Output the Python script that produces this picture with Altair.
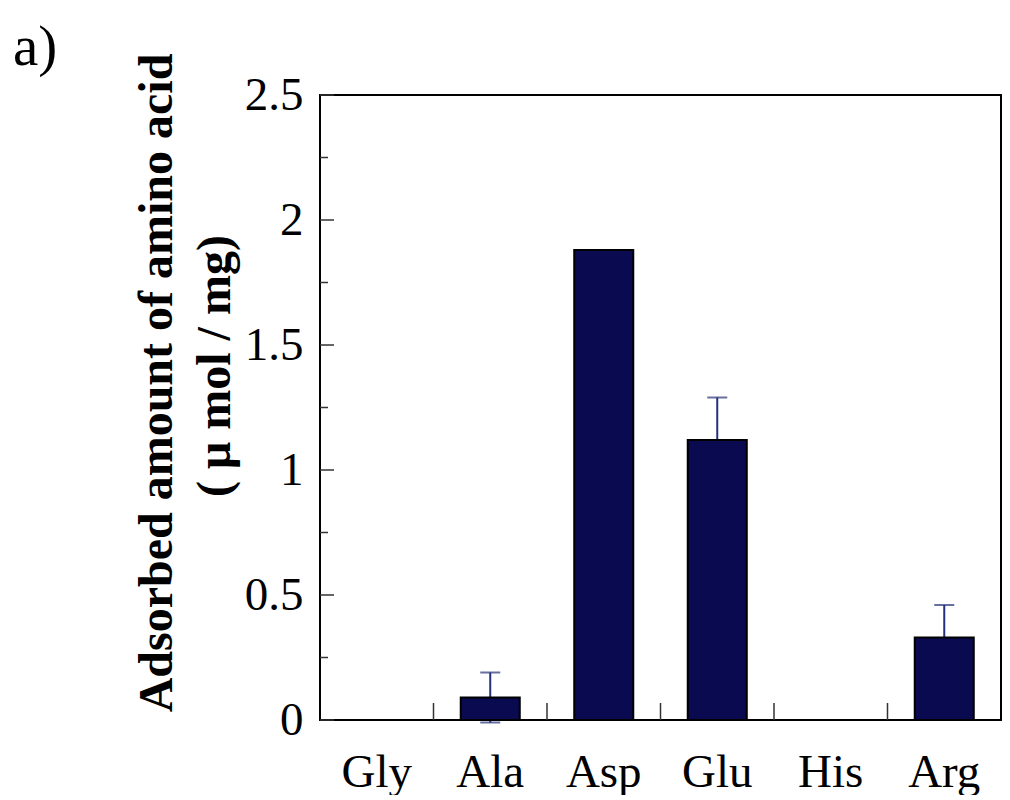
import altair as alt
import pandas as pd

categories = ["Gly", "Ala", "Asp", "Glu", "His", "Arg"]
values = [0.0, 0.09, 1.88, 1.12, 0.0, 0.33]
errors = [0.0, 0.10, 0.0, 0.17, 0.0, 0.13]
major_ticks = [0, 0.5, 1, 1.5, 2, 2.5]
minor_ticks = [0.25, 0.75, 1.25, 1.75, 2.25]
boundary_categories = ["Ala", "Asp", "Glu", "His", "Arg"]
y_title_line1 = ["Adsorbed amount of amino acid"]
y_title_line2 = ["( μ mol / mg)"]
panel_label = ["a)"]

df = pd.DataFrame({"cat": categories, "value": values, "err": errors})
df["lo"] = df["value"] - df["err"]
df["hi"] = df["value"] + df["err"]
df_err = df[df["err"] > 0]

W, H = 681, 625
FONT = "Liberation Serif"
BAR = "#0a0a50"
ERR = "#263078"

xscale = alt.Scale(domain=categories, paddingInner=0, paddingOuter=0)
yscale = alt.Scale(domain=[0, 2.5], nice=False, zero=False)

x_axis = alt.Axis(title=None, labelFont=FONT, labelFontSize=47, labelColor="black",
                  labelAngle=0, ticks=False, domain=False, labelPadding=29, grid=False)
y_axis = alt.Axis(title=None, values=major_ticks, format="~g", labelFont=FONT,
                  labelFontSize=47, labelColor="black", ticks=False, domain=False,
                  grid=False, labelPadding=17)


def X(field, **kw):
    return alt.X(field, scale=xscale, sort=categories, axis=x_axis, **kw)


def Y(field):
    return alt.Y(field, scale=yscale, axis=y_axis)


bars = alt.Chart(df).mark_bar(width=alt.RelativeBandSize(0.52), color=BAR, stroke="black",
                               strokeWidth=2).encode(x=X("cat:N"), y=Y("value:Q"))

# major / minor y ticks pointing inward
ymaj = alt.Chart(pd.DataFrame({"value": major_ticks})).mark_rule(color="#333333", strokeWidth=1.5).encode(
    y=Y("value:Q"), x=alt.value(0), x2=alt.value(14))
ymin = alt.Chart(pd.DataFrame({"value": minor_ticks})).mark_rule(color="#333333", strokeWidth=1.5).encode(
    y=Y("value:Q"), x=alt.value(0), x2=alt.value(8))

# x ticks at category boundaries pointing up
xt = alt.Chart(pd.DataFrame({"cat": boundary_categories})).mark_rule(color="#333333", strokeWidth=1.5).encode(
    x=X("cat:N", bandPosition=0), y=alt.value(H), y2=alt.value(H - 17))

err_rule = alt.Chart(df_err).mark_rule(color=ERR, strokeWidth=2).encode(
    x=X("cat:N"), y=Y("lo:Q"), y2="hi:Q")
err_hi = alt.Chart(df_err).mark_tick(color=ERR, size=20, thickness=2).encode(
    x=X("cat:N"), y=Y("hi:Q"))
err_lo = alt.Chart(df_err).mark_tick(color=ERR, size=20, thickness=2).encode(
    x=X("cat:N"), y=Y("lo:Q"))

t1 = alt.Chart(pd.DataFrame({"t": y_title_line1})).mark_text(
    angle=270, font=FONT, fontSize=48, fontWeight="bold", align="center",
    baseline="alphabetic", color="black").encode(
    x=alt.value(-148), y=alt.value(288), text="t:N")
t2 = alt.Chart(pd.DataFrame({"t": y_title_line2})).mark_text(
    angle=270, font=FONT, fontSize=48, fontWeight="bold", align="center",
    baseline="alphabetic", color="black").encode(
    x=alt.value(-90), y=alt.value(271), text="t:N")
t3 = alt.Chart(pd.DataFrame({"t": panel_label})).mark_text(
    font=FONT, fontSize=57, align="left", baseline="alphabetic", color="black").encode(
    x=alt.value(-307), y=alt.value(-30), text="t:N")

chart = alt.layer(ymaj, ymin, xt, err_rule, err_hi, err_lo, bars, t1, t2, t3).properties(
    width=W, height=H,
    autosize=alt.AutoSizeParams(type="none"),
    padding={"left": 312, "top": 87, "right": 1, "bottom": 75},
).configure_view(stroke="black", strokeWidth=2)

chart.save("out.html", embed_options={"renderer": "svg", "actions": False})
